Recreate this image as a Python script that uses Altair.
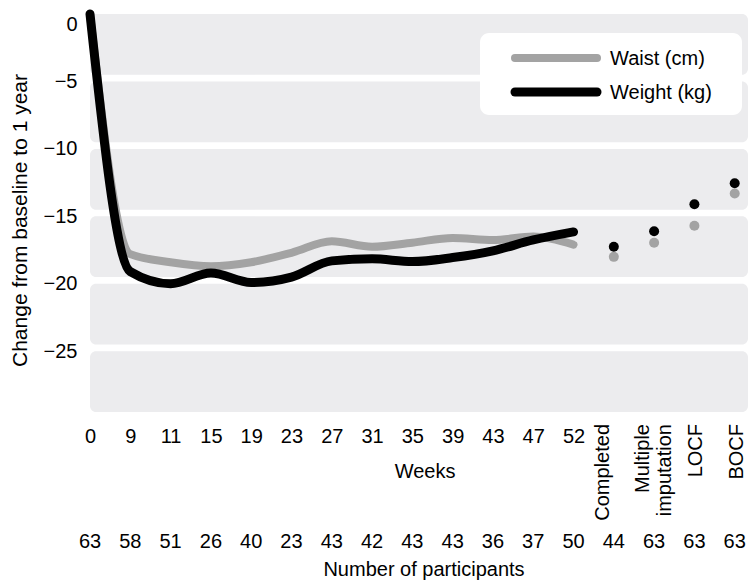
import json
import altair as alt
import pandas as pd

# ---------------- data ----------------
week_labels = ["0", "9", "11", "15", "19", "23", "27", "31", "35", "39", "43", "47", "52"]
method_labels = ["Completed", "Multiple\nimputation", "LOCF", "BOCF"]
participants = [63, 58, 51, 26, 40, 23, 43, 42, 43, 43, 36, 37, 50, 44, 63, 63, 63]
series_names = ["Waist (cm)", "Weight (kg)"]

waist_weekly = [0, -17.8, -18.4, -18.7, -18.4, -17.7, -16.85, -17.25, -16.95, -16.6, -16.75, -16.5, -17.1]
weight_weekly = [0, -19.1, -20.0, -19.2, -19.9, -19.5, -18.3, -18.15, -18.35, -18.05, -17.55, -16.75, -16.15]
waist_methods = [-18.0, -16.95, -15.7, -13.3]
weight_methods = [-17.25, -16.1, -14.1, -12.55]

y_ticks = [0, -5, -10, -15, -20, -25]
band_tops = [0, -5, -10, -15, -20, -25]
band_bottoms = [-4.5, -9.5, -14.5, -19.5, -24.5, -29.5]

# ---------------- tables ----------------
n_weeks = len(week_labels)
lines_df = pd.DataFrame({
    "idx": list(range(n_weeks)),
    "waist": waist_weekly,
    "weight": weight_weekly,
})
points_df = pd.DataFrame({
    "idx": list(range(n_weeks, n_weeks + len(method_labels))),
    "method": method_labels,
    "waist": waist_methods,
    "weight": weight_methods,
})
bands_df = pd.DataFrame({"top": band_tops, "bottom": band_bottoms})
part_df = pd.DataFrame({"idx": list(range(len(participants))), "n": [str(p) for p in participants]})

W, H = 658, 398
FONT = "Liberation Sans"
GRAY = "#a3a3a3"
BAND = "#ececee"

xscale = alt.Scale(domain=[0, 16.33], nice=False, zero=False)
yscale = alt.Scale(domain=[-29.5, 0], nice=False, zero=False)

xax = alt.Axis(
    values=list(range(n_weeks)),
    labelExpr=f"{json.dumps(week_labels)}[datum.value]",
    labelFontSize=20, labelFont=FONT, labelColor="#000",
    labelPadding=14, labelFlush=False, labelOverlap=False,
    ticks=False, domain=False, grid=False,
    title="Weeks", titleFont=FONT, titleFontSize=20, titleFontWeight="normal",
    titleColor="#000", titleX=334.5, titleY=65, titleBaseline="alphabetic",
    titleAlign="center",
)
yax = alt.Axis(
    values=y_ticks,
    labelFontSize=20, labelFont=FONT, labelColor="#000",
    labelPadding=13, labelFlush=True,
    ticks=False, domain=False, grid=False,
    title="Change from baseline to 1 year", titleFont=FONT, titleFontSize=21,
    titleFontWeight="normal", titleColor="#000", titleAngle=270,
    titleX=-64, titleY=206, titleBaseline="alphabetic", titleAlign="center",
)

bands = alt.Chart(bands_df).mark_rect(color=BAND, cornerRadius=6).encode(
    x=alt.value(0), x2=alt.value(W),
    y=alt.Y("top:Q", scale=yscale, axis=yax),
    y2="bottom:Q",
)

waist_line = alt.Chart(lines_df).mark_line(
    color=GRAY, strokeWidth=8, interpolate="monotone", strokeCap="round", strokeJoin="round"
).encode(
    x=alt.X("idx:Q", scale=xscale, axis=xax),
    y=alt.Y("waist:Q", scale=yscale, axis=yax),
)
weight_line = alt.Chart(lines_df).mark_line(
    color="#000", strokeWidth=9, interpolate="monotone", strokeCap="round", strokeJoin="round"
).encode(
    x=alt.X("idx:Q", scale=xscale, axis=xax),
    y=alt.Y("weight:Q", scale=yscale, axis=yax),
)

waist_pts = alt.Chart(points_df).mark_circle(color=GRAY, size=100, opacity=1).encode(
    x=alt.X("idx:Q", scale=xscale, axis=xax),
    y=alt.Y("waist:Q", scale=yscale, axis=yax),
)
weight_pts = alt.Chart(points_df).mark_circle(color="#000", size=100, opacity=1).encode(
    x=alt.X("idx:Q", scale=xscale, axis=xax),
    y=alt.Y("weight:Q", scale=yscale, axis=yax),
)

method_base = alt.Chart(points_df)
method_text_left = method_base.transform_filter(
    alt.datum.idx < n_weeks + 2
).mark_text(
    angle=270, align="right", baseline="middle", font=FONT, fontSize=20,
    color="#000", lineBreak="\n", lineHeight=22, dy=-11,
).encode(
    x=alt.X("idx:Q", scale=xscale, axis=xax),
    y=alt.value(410),
    text="method:N",
)
method_text_right = method_base.transform_filter(
    alt.datum.idx >= n_weeks + 2
).mark_text(
    angle=270, align="right", baseline="middle", font=FONT, fontSize=20,
    color="#000", dy=2,
).encode(
    x=alt.X("idx:Q", scale=xscale, axis=xax),
    y=alt.value(410),
    text="method:N",
)

part_text = alt.Chart(part_df).mark_text(
    baseline="alphabetic", align="center", font=FONT, fontSize=20, color="#000"
).encode(
    x=alt.X("idx:Q", scale=xscale, axis=xax),
    y=alt.value(534),
    text="n:N",
)
part_title = alt.Chart(pd.DataFrame({"t": ["Number of participants"]})).mark_text(
    baseline="alphabetic", align="center", font=FONT, fontSize=20, color="#000"
).encode(x=alt.value(334), y=alt.value(562), text="t:N")

# ---------------- legend ----------------
leg_df = pd.DataFrame({"name": series_names})
leg_box = alt.Chart(pd.DataFrame({"a": [0]})).mark_rect(
    color="white", cornerRadius=9
).encode(x=alt.value(390), x2=alt.value(652), y=alt.value(19), y2=alt.value(101))
leg_waist = alt.Chart(leg_df.iloc[[0]]).mark_rule(
    color=GRAY, strokeWidth=8, strokeCap="round"
).encode(x=alt.value(425), x2=alt.value(507), y=alt.value(44))
leg_weight = alt.Chart(leg_df.iloc[[1]]).mark_rule(
    color="#000", strokeWidth=9, strokeCap="round"
).encode(x=alt.value(425), x2=alt.value(507), y=alt.value(78))
leg_t1 = alt.Chart(leg_df.iloc[[0]]).mark_text(
    align="left", baseline="middle", font=FONT, fontSize=20, color="#000"
).encode(x=alt.value(520), y=alt.value(45), text="name:N")
leg_t2 = alt.Chart(leg_df.iloc[[1]]).mark_text(
    align="left", baseline="middle", font=FONT, fontSize=20, color="#000"
).encode(x=alt.value(520), y=alt.value(79), text="name:N")

chart = alt.layer(
    bands, leg_box, leg_waist, leg_weight, leg_t1, leg_t2,
    waist_line, weight_line, waist_pts, weight_pts,
    method_text_left, method_text_right, part_text, part_title,
).properties(
    width=W, height=H,
    autosize=alt.AutoSizeParams(type="none"),
    padding={"left": 82, "top": 6, "right": 0, "bottom": 168},
    background="white",
).configure_view(strokeWidth=0)

chart.save("out.html", embed_options={"renderer": "svg", "actions": False})
